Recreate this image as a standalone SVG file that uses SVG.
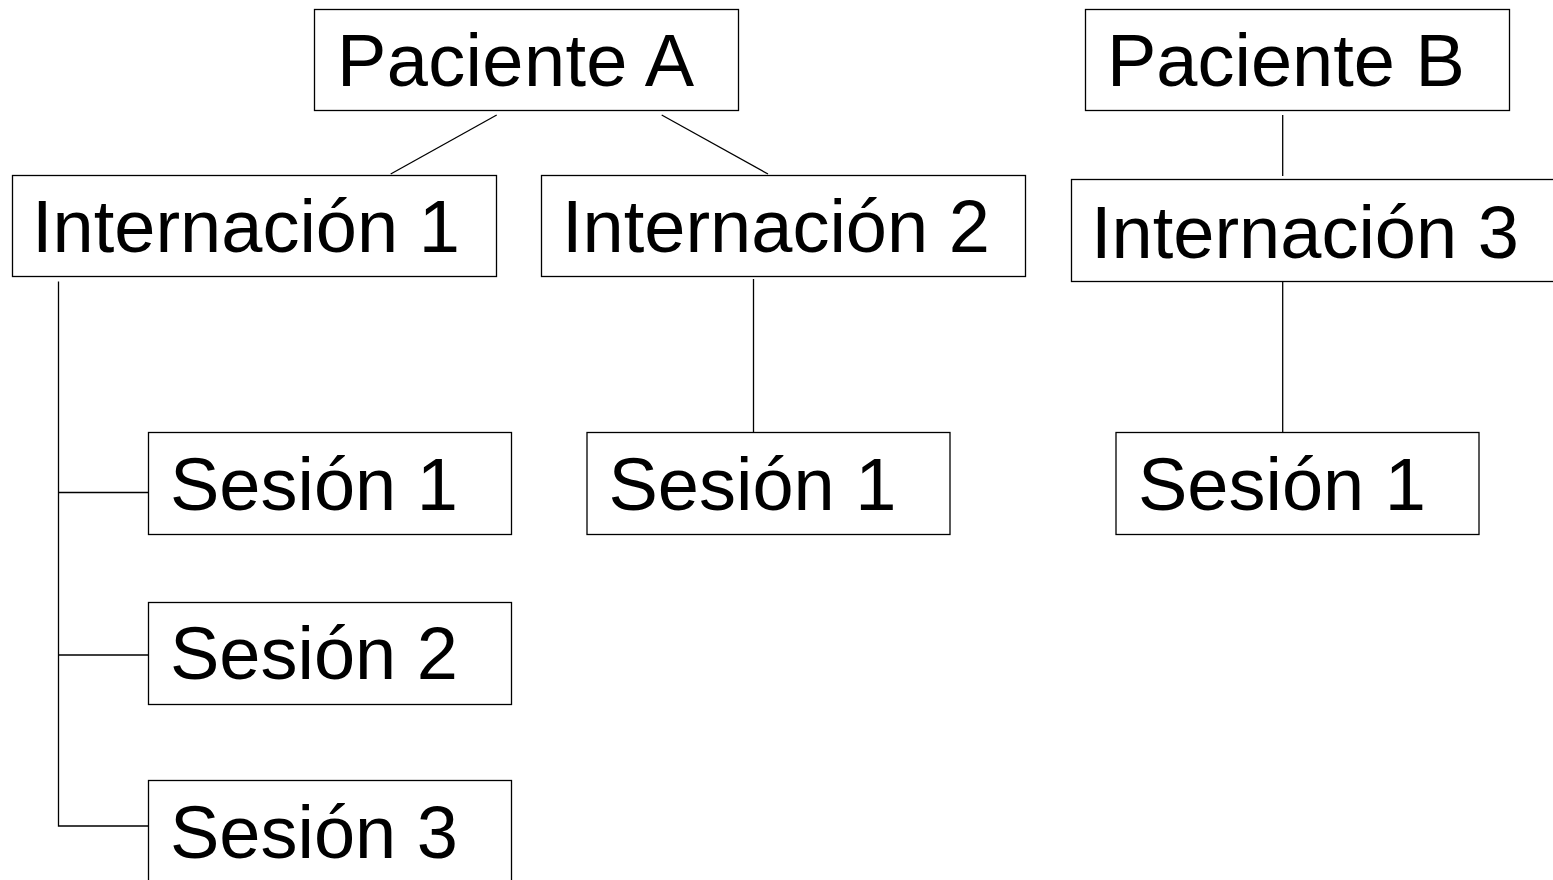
<svg xmlns="http://www.w3.org/2000/svg" width="1553" height="880" viewBox="0 0 1553 880">
<style>
.box{fill:#fff;stroke:#000;stroke-width:1.3}
.lbl{font-family:"Liberation Sans",Arial,sans-serif;font-size:74px;fill:#000}
.con{stroke:#000;stroke-width:1.3;fill:none}
</style>
<rect width="1553" height="880" fill="#fff"/>
<g id="connectors">
<line class="con" x1="496.7" y1="115" x2="390.7" y2="174"/>
<line class="con" x1="661.7" y1="115" x2="768" y2="174"/>
<line class="con" x1="1282.7" y1="115" x2="1282.7" y2="176"/>
<path class="con" d="M58.5 281.5 V826 H148 M58.5 492.5 H148 M58.5 655 H148"/>
<line class="con" x1="753.5" y1="279" x2="753.5" y2="432"/>
<line class="con" x1="1282.7" y1="282" x2="1282.7" y2="432"/>
</g>
<g id="pacienteA"><rect class="box" x="314.5" y="9.5" width="424" height="101"/><text class="lbl" x="337" y="86" textLength="357">Paciente A</text></g>
<g id="pacienteB"><rect class="box" x="1085.5" y="9.5" width="424" height="101"/><text class="lbl" x="1107" y="86">Paciente B</text></g>
<g id="internacion1"><rect class="box" x="12.5" y="175.5" width="484" height="101"/><text class="lbl" x="32" y="252">Internación 1</text></g>
<g id="internacion2"><rect class="box" x="541.5" y="175.5" width="484" height="101"/><text class="lbl" x="562" y="252">Internación 2</text></g>
<g id="internacion3"><rect class="box" x="1071.5" y="179.5" width="490" height="102"/><text class="lbl" x="1091" y="258">Internación 3</text></g>
<g id="sesion1a"><rect class="box" x="148.5" y="432.5" width="363" height="102"/><text class="lbl" x="170" y="510">Sesión 1</text></g>
<g id="sesion2a"><rect class="box" x="148.5" y="602.5" width="363" height="102"/><text class="lbl" x="170" y="679">Sesión 2</text></g>
<g id="sesion3a"><rect class="box" x="148.5" y="780.5" width="363" height="110"/><text class="lbl" x="170" y="858">Sesión 3</text></g>
<g id="sesion1b"><rect class="box" x="587" y="432.5" width="363" height="102"/><text class="lbl" x="608.5" y="510">Sesión 1</text></g>
<g id="sesion1c"><rect class="box" x="1116" y="432.5" width="363" height="102"/><text class="lbl" x="1138" y="510">Sesión 1</text></g>
</svg>
